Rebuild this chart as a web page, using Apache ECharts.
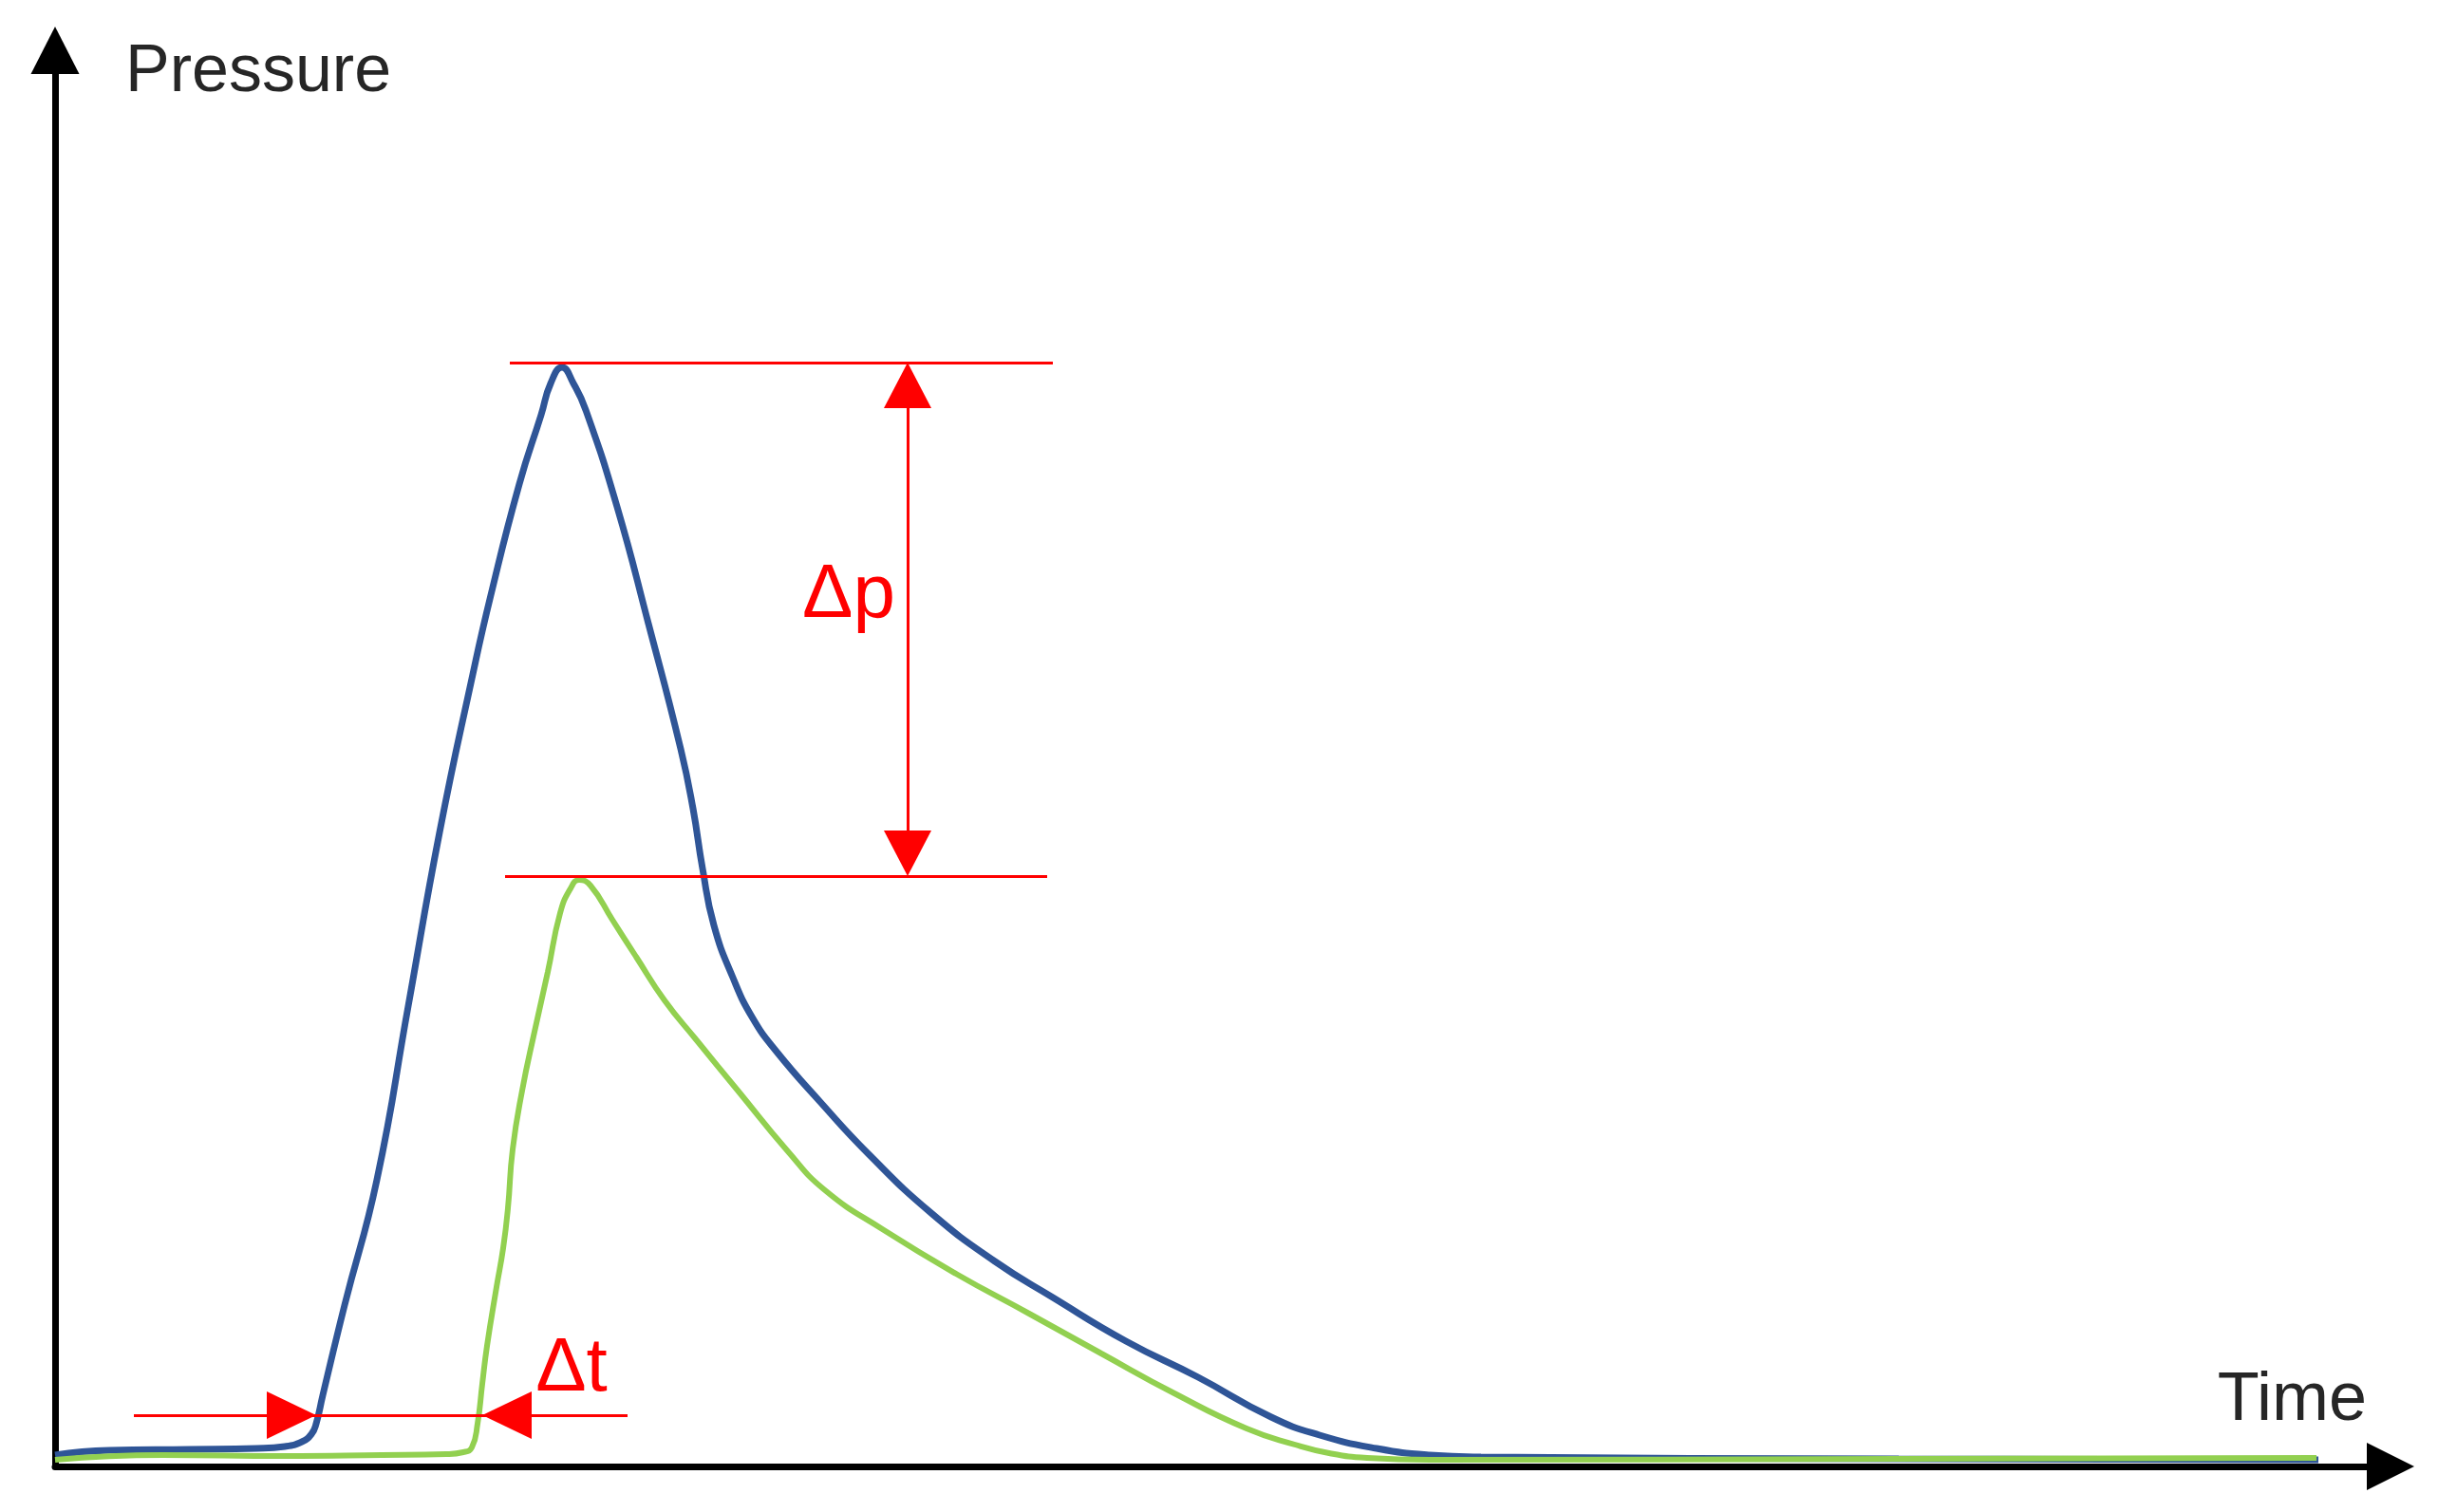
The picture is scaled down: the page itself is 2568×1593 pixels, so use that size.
<!DOCTYPE html>
<html>
<head>
<meta charset="utf-8">
<script src="https://cdn.jsdelivr.net/npm/echarts@6/dist/echarts.min.js"></script>
<style>html,body{margin:0;padding:0;background:#fff}#c{width:2568px;height:1593px}</style>
</head>
<body>
<div id="c"></div>
<script>
// ---- data (arbitrary units) ----
const blueTime = [0, 5.7, 14.2, 21.2, 24.2, 26.0, 27.0, 27.5, 28.2, 30.5, 33.9, 37.2, 40.5, 43.9, 45.9, 48.9, 51.2, 52.2, 53.4, 54.6, 55.9, 59.2, 62.5, 65.9, 67.2, 68.2, 69.4, 71.4, 73.5, 76.0, 80.6, 85.7, 92.4, 99.0, 105.1, 112.8, 120.4, 128.1, 133.2, 139.2, 144.8, 150.2, 194.2, 238.4];
const bluePressure = [1.2, 1.7, 1.8, 1.9, 2.1, 2.6, 3.4, 4.5, 7.5, 17.0, 30.2, 48.5, 66.8, 83.0, 91.8, 103.5, 110.8, 114.1, 115.8, 114.1, 111.3, 101.1, 88.8, 75.6, 69.3, 63.0, 57.0, 51.5, 47.2, 43.7, 38.4, 32.9, 26.6, 21.6, 17.8, 13.2, 9.4, 5.2, 3.3, 1.9, 1.2, 1.0, 0.8, 0.7];
const greenTime = [0, 11.4, 24.2, 34.4, 41.2, 43.0, 43.9, 44.5, 45.0, 45.5, 46.5, 47.2, 47.7, 48.2, 49.2, 50.5, 51.9, 53.2, 54.3, 55.2, 56.4, 58.7, 61.2, 64.2, 67.5, 72.0, 77.1, 81.1, 87.3, 94.9, 102.6, 110.2, 117.9, 125.5, 130.6, 134.2, 138.2, 144.8, 194.2, 238.2];
const greenPressure = [0.7, 1.2, 1.1, 1.2, 1.3, 1.5, 2.0, 4.5, 8.7, 12.7, 18.9, 23.0, 27.2, 33.4, 39.6, 45.8, 52.1, 58.3, 60.9, 61.8, 61.2, 57.6, 53.7, 49.1, 45.0, 39.5, 33.3, 29.1, 24.9, 20.3, 16.1, 11.9, 7.7, 4.0, 2.3, 1.4, 0.9, 0.7, 0.8, 0.9];

// annotation values
const dpLevels = [116.3, 62.2];               // upper / lower reference levels
const dpLineStart = [47.9, 47.4];
const dpLineEnd = [105.1, 104.5];
const dpArrowTime = 89.8;
const dtLevel = 5.4;
const dtLineRange = [8.3, 60.3];
const dtArrowTips = [27.5, 45.0];             // blue onset, green onset
const labelDp = {text: 'Δp', time: 83.6, pressure: 91.7};
const labelDt = {text: 'Δt', time: 54.4, pressure: 10.2};
const axisNames = {x: 'Time', y: 'Pressure'};

const zip = (a, b) => a.map((v, i) => [v, b[i]]);
const FONT = 'Liberation Sans';
const RED = '#ff0000';

const chart = echarts.init(document.getElementById('c'), null, {renderer: 'canvas'});
chart.setOption({
  backgroundColor: '#ffffff',
  animation: false,
  grid: {left: 58, right: 50, top: 53, bottom: 48, containLabel: false},
  xAxis: {
    type: 'value', min: 0, max: 246,
    axisLine: {show: true, onZero: false, symbol: ['none', 'triangle'], symbolSize: [50, 50], lineStyle: {color: '#000', width: 7}},
    axisTick: {show: false}, axisLabel: {show: false}, splitLine: {show: false}
  },
  yAxis: {
    type: 'value', min: 0, max: 149.2,
    name: axisNames.y, nameLocation: 'end', nameGap: -24,
    nameTextStyle: {fontFamily: FONT, fontSize: 70, color: '#262626', align: 'left', verticalAlign: 'middle', padding: [0, 0, 0, 74]},
    axisLine: {show: true, onZero: false, symbol: ['none', 'triangle'], symbolSize: [51, 50], lineStyle: {color: '#000', width: 7}},
    axisTick: {show: false}, axisLabel: {show: false}, splitLine: {show: false}
  },
  graphic: [{
    type: 'text', right: 2568 - 2493, top: 1440, silent: true,
    style: {text: axisNames.x, fontFamily: FONT, fontSize: 72, fill: '#262626'}
  }],
  series: [
    {
      type: 'line', name: 'upstream', data: zip(blueTime, bluePressure),
      smooth: 0.5, showSymbol: false, symbol: 'none',
      lineStyle: {color: '#2f5597', width: 7}, z: 3,
      markLine: {
        silent: true, symbol: ['none', 'none'], label: {show: false},
        lineStyle: {color: RED, width: 3, type: 'solid'},
        emphasis: {disabled: true},
        data: [
          [{coord: [dpLineStart[0], dpLevels[0]]}, {coord: [dpLineEnd[0], dpLevels[0]]}],
          [{coord: [dpLineStart[1], dpLevels[1]]}, {coord: [dpLineEnd[1], dpLevels[1]]}],
          [{coord: [dpArrowTime, dpLevels[0] - 2.4], symbol: 'triangle', symbolSize: [50, 48]},
           {coord: [dpArrowTime, dpLevels[1] + 2.4], symbol: 'triangle', symbolSize: [50, 48]}],
          [{coord: [dtLineRange[0], dtLevel]}, {coord: [dtLineRange[1], dtLevel]}]
        ]
      },
      markPoint: {
        silent: true,
        data: [
          {coord: [labelDp.time, labelDp.pressure], symbol: 'circle', symbolSize: 1, itemStyle: {color: 'rgba(0,0,0,0)'},
           label: {show: true, position: 'inside', formatter: labelDp.text, fontFamily: FONT, fontSize: 80, color: RED}},
          {coord: [labelDt.time, labelDt.pressure], symbol: 'circle', symbolSize: 1, itemStyle: {color: 'rgba(0,0,0,0)'},
           label: {show: true, position: 'inside', formatter: labelDt.text, fontFamily: FONT, fontSize: 80, color: RED}}
        ]
      }
    },
    {
      type: 'line', name: 'downstream', data: zip(greenTime, greenPressure),
      smooth: 0.5, showSymbol: false, symbol: 'none',
      lineStyle: {color: '#92d050', width: 6}, z: 4,
      markPoint: {
        silent: true,
        label: {show: false},
        itemStyle: {color: RED},
        data: [
          {coord: [dtArrowTips[0] - 2.6, dtLevel], symbol: 'triangle', symbolSize: [50, 52], symbolRotate: -90},
          {coord: [dtArrowTips[1] + 2.6, dtLevel], symbol: 'triangle', symbolSize: [50, 52], symbolRotate: 90}
        ]
      }
    }
  ]
});
</script>
</body>
</html>
